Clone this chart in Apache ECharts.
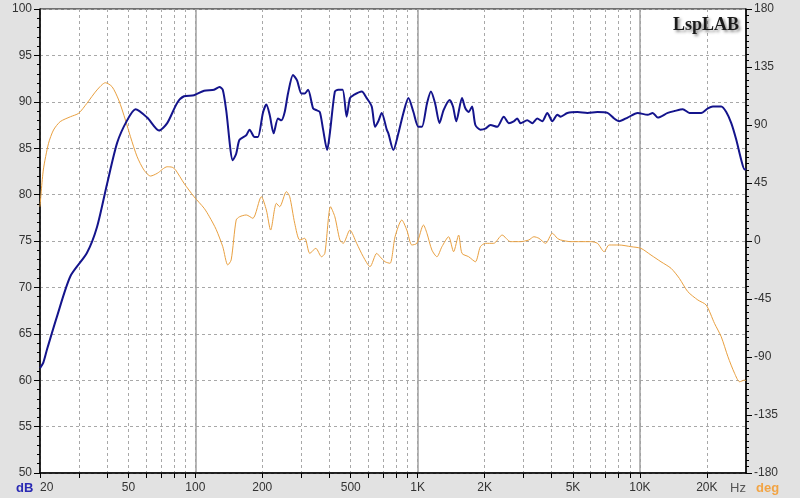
<!DOCTYPE html>
<html>
<head>
<meta charset="utf-8">
<script src="https://cdn.jsdelivr.net/npm/echarts@6.0.0/dist/echarts.min.js"></script>
<style>
  html, body { margin: 0; padding: 0; background: #e2e2e2; }
  #chart { width: 800px; height: 498px; }
</style>
</head>
<body>
<div id="chart"></div>
<script>
// frequency response (dB, left axis)
var magFreq = [20, 20.7, 21.5, 23.8, 27.4, 32.5, 36.1, 40.1, 44.5, 49.3,
  53.8, 60.7, 68.6, 74.7, 82.9, 88.9, 98.6, 109.5, 121.4, 128.3,
  132.8, 137.6, 147.4, 152.6, 158, 169.4, 175.3, 184.6, 191.1, 201.3,
  208.6, 215.9, 225, 235.3, 243.8, 252.3, 261.1, 275, 286.7, 300.1,
  310.5, 321.4, 338.5, 350.7, 362.9, 375.6, 391.6, 402.7, 424.1, 438.9,
  459.5, 479.1, 495.8, 513.1, 560, 589.9, 621.4, 643.1, 665.3, 689.3,
  726.1, 738.3, 777.5, 819, 862.8, 908.7, 957.2, 1008, 1045, 1101,
  1147, 1199, 1254, 1308, 1392, 1442, 1492, 1583, 1639, 1696,
  1757, 1818, 1915, 2017, 2125, 2279, 2440, 2571, 2707, 2805,
  2903, 3112, 3278, 3452, 3636, 3831, 4036, 4250, 4398, 4716,
  5232, 5806, 6442, 7149, 7656, 8063, 8800, 9763, 10834, 11410,
  12023, 13339, 14287, 15588, 16698, 18859, 20213, 21294, 23212, 24451,
  25754, 27128, 28576, 29573, 30000];
var magDb = [61.3, 61.9, 63.3, 66.8, 71.2, 73.7, 76.5, 81.2, 85.6, 88.0,
  89.2, 88.3, 86.9, 87.7, 89.9, 90.6, 90.7, 91.2, 91.3, 91.6,
  91.3, 89.1, 83.7, 84.4, 85.9, 86.4, 87.0, 86.2, 86.2, 88.8,
  89.7, 88.6, 86.6, 88.2, 88.0, 88.9, 90.9, 92.9, 92.3, 90.9,
  90.9, 91.3, 89.3, 89.1, 88.9, 87.0, 84.8, 86.6, 91.1, 91.3,
  91.3, 88.4, 90.4, 90.7, 91.1, 90.4, 89.5, 87.3, 87.9, 88.8,
  87.0, 86.6, 84.8, 86.6, 88.8, 90.4, 88.9, 87.3, 87.3, 89.8,
  91.1, 89.8, 87.7, 89.1, 90.2, 89.5, 87.9, 90.4, 89.3, 88.9,
  89.5, 87.5, 87.0, 87.1, 87.5, 87.3, 88.4, 87.7, 87.9, 88.2,
  87.7, 88.0, 87.7, 88.2, 87.9, 88.8, 87.9, 88.6, 88.4, 88.8,
  88.9, 88.8, 88.9, 88.8, 88.2, 87.9, 88.3, 88.8, 88.6, 88.8,
  88.3, 88.8, 89.0, 89.2, 88.8, 88.8, 89.3, 89.5, 89.5, 88.9,
  87.7, 85.9, 83.7, 82.7, 82.8];

// phase (deg, right axis)
var phaseFreq = [20, 20.7, 21.85, 23, 24.65, 27.4, 29.85, 32.5, 36.1, 39.4,
  42.2, 45.2, 48.45, 51.05, 54.7, 58.7, 62.85, 67.35, 74.7, 78.7,
  81.5, 88.9, 98.6, 109.5, 115.7, 124, 132.8, 139.9, 144.9, 152.6,
  158, 169.4, 181.4, 198, 208.6, 218.1, 231.4, 239.5, 256.8, 265.7,
  279.9, 294.8, 310.5, 327.1, 348.2, 369.4, 382.3, 405.6, 424.1, 446.8,
  462.4, 495.8, 531.6, 569.4, 610.6, 654.5, 677, 713.5, 751.1, 791.3,
  848.5, 893.9, 941.5, 991.7, 1062, 1101, 1159, 1221, 1286, 1378,
  1451, 1529, 1583, 1696, 1818, 1915, 2017, 2199, 2399, 2616,
  2903, 3163, 3333, 3511, 3763, 4036, 4250, 4398, 4881, 5415,
  6008, 6442, 6900, 7268, 8063, 9108, 10104, 11212, 12436, 13804,
  15043, 16419, 18224, 19861, 21645, 23212, 24883, 26658, 28076, 29573,
  30000];
var phaseDeg = [26.6, 55.1, 75.8, 86.1, 92.6, 96.4, 99.1, 106.8, 117.2, 122.8,
  119.7, 109.4, 93.9, 80.9, 65.4, 55.1, 50.4, 52.5, 57.6, 57.2,
  55.1, 44.8, 34.4, 25.4, 18.8, 9.0, -4.4, -18.6, -14.7, 16.3,
  18.8, 20.2, 17.6, 34.4, 24.0, 8.5, 29.2, 26.6, 38.3, 34.4,
  13.7, 0.8, 2.1, -9.6, -5.7, -12.2, -9.6, 26.6, 18.8, 0.8,
  -1.8, 8.5, -1.8, -12.2, -19.9, -9.6, -12.2, -16.1, -17.3, 3.3,
  16.3, 8.5, -3.1, -1.8, 12.4, 6.0, -7.0, -12.2, -4.4, 3.3,
  -8.3, 4.6, -9.6, -12.2, -16.1, -4.4, -1.8, -1.8, 4.6, -0.5,
  -0.5, 0.8, 3.3, 2.1, -1.8, 6.0, 2.1, 0.8, -0.5, -0.5,
  -0.5, -1.8, -8.3, -3.1, -3.1, -4.4, -5.7, -10.9, -16.1, -21.2,
  -29.0, -39.3, -45.8, -49.7, -63.9, -74.3, -89.8, -102.7, -109.2, -107.9,
  -108.5];

// axis ticks
var freqLabels = [20, 50, 100, 200, 500, 1000, 2000, 5000, 10000, 20000];
var freqGrid = [20, 30, 40, 50, 60, 70, 80, 90, 100, 200, 300, 400, 500, 600, 700, 800, 900,
  1000, 2000, 3000, 4000, 5000, 6000, 7000, 8000, 9000, 10000, 20000];
var freqDecades = [100, 1000, 10000];

var FONT = 'Liberation Sans, Arial, sans-serif';

function pairs(xs, ys) {
  return xs.map(function (x, i) { return [x, ys[i]]; });
}

var chart = echarts.init(document.getElementById('chart'));

var option = {
  animation: false,
  backgroundColor: '#e2e2e2',
  title: {
    text: 'LspLAB',
    right: 56,
    top: 11,
    textStyle: {
      fontFamily: 'Liberation Serif, Times New Roman, serif',
      fontWeight: 'bold',
      fontSize: 18,
      color: '#1a1a1a',
      textShadowColor: 'rgba(0,0,0,0.45)',
      textShadowBlur: 3,
      textShadowOffsetX: 2,
      textShadowOffsetY: 2
    }
  },
  grid: {
    left: 40, right: 54, top: 9, bottom: 25,
    show: true,
    backgroundColor: '#ffffff',
    borderColor: '#000',
    borderWidth: 1,
    containLabel: false,
    outerBoundsMode: 'none'
  },
  xAxis: [{
    type: 'log',
    logBase: 10,
    min: 20,
    max: 30000,
    position: 'bottom',
    axisLine: { show: true, onZero: false, lineStyle: { color: '#000', width: 1.5 } },
    axisTick: { show: true, length: 5, customValues: freqGrid, lineStyle: { color: '#000' } },
    axisLabel: {
      customValues: freqLabels,
      alignMinLabel: 'left',
      margin: 9,
      fontSize: 12,
      fontFamily: FONT,
      color: '#333',
      formatter: function (v) { return v >= 1000 ? (v / 1000) + 'K' : String(v); }
    },
    splitLine: { show: true, lineStyle: { color: '#a8a8a8', type: [3, 3], width: 1 } },
    minorTick: { show: false },
    minorSplitLine: { show: false }
  }, {
    // decade lines, drawn solid
    type: 'log',
    logBase: 10,
    min: 20,
    max: 30000,
    position: 'top',
    axisLine: { show: false, onZero: false },
    axisTick: { show: false, customValues: freqDecades },
    axisLabel: { show: false },
    splitLine: { show: true, lineStyle: { color: '#a0a0a0', type: 'solid', width: 1.5 } }
  }],
  yAxis: [{
    type: 'value',
    min: 50,
    max: 100,
    interval: 5,
    position: 'left',
    axisLine: { show: true, onZero: false, lineStyle: { color: '#000', width: 1.5 } },
    axisTick: { show: true, length: 6, lineStyle: { color: '#000' } },
    minorTick: { show: true, splitNumber: 5, length: 3, lineStyle: { color: '#000' } },
    axisLabel: { margin: 8, fontSize: 12, fontFamily: FONT, color: '#333' },
    splitLine: { show: true, lineStyle: { color: '#a8a8a8', type: [3, 3], width: 1 } }
  }, {
    type: 'value',
    min: -180,
    max: 180,
    interval: 45,
    position: 'right',
    axisLine: { show: true, onZero: false, lineStyle: { color: '#000', width: 1.5 } },
    axisTick: { show: true, length: 6, lineStyle: { color: '#000' } },
    minorTick: { show: true, splitNumber: 9, length: 3, lineStyle: { color: '#000' } },
    axisLabel: { margin: 8, fontSize: 12, fontFamily: FONT, color: '#333' },
    splitLine: { show: false }
  }],
  graphic: [
    { type: 'text', left: 16, top: 482, style: { text: 'dB', fill: '#2a2ab4', font: 'bold 13px ' + FONT } },
    { type: 'text', left: 730, top: 482, style: { text: 'Hz', fill: '#555', font: '13px ' + FONT } },
    { type: 'text', left: 756, top: 482, style: { text: 'deg', fill: '#f2a444', font: 'bold 13px ' + FONT } }
  ],
  series: [{
    name: 'Phase',
    type: 'line',
    xAxisIndex: 0,
    yAxisIndex: 1,
    data: pairs(phaseFreq, phaseDeg),
    showSymbol: false,
    smooth: 0.25,
    lineStyle: { color: '#e9a040', width: 1 },
    z: 2
  }, {
    name: 'SPL',
    type: 'line',
    xAxisIndex: 0,
    yAxisIndex: 0,
    data: pairs(magFreq, magDb),
    showSymbol: false,
    smooth: 0.25,
    lineStyle: { color: '#14148c', width: 2 },
    z: 3
  }]
};

chart.setOption(option);
</script>
</body>
</html>
